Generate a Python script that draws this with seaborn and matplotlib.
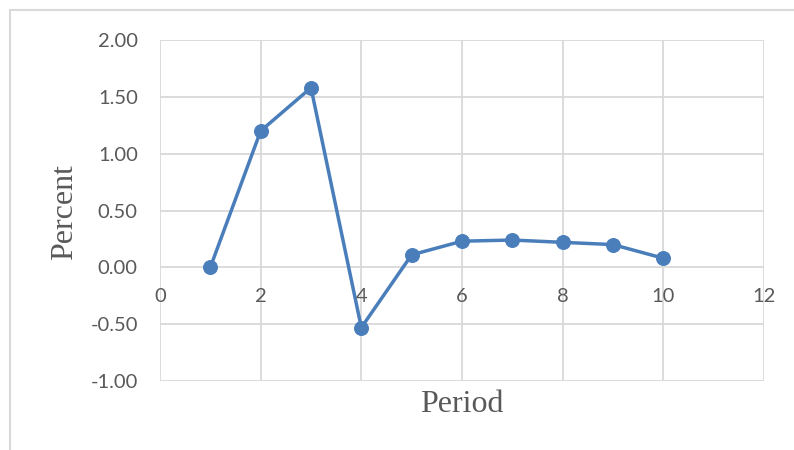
import matplotlib.pyplot as plt
import seaborn as sns
import pandas as pd
from matplotlib.lines import Line2D
from matplotlib.ticker import FormatStrFormatter

# values
periods = [1, 2, 3, 4, 5, 6, 7, 8, 9, 10]
percent = [0.00, 1.20, 1.58, -0.53, 0.11, 0.23, 0.24, 0.22, 0.20, 0.08]
x_ticks = [0, 2, 4, 6, 8, 10, 12]
y_ticks = [-1.00, -0.50, 0.00, 0.50, 1.00, 1.50, 2.00]

df = pd.DataFrame({"Period": periods, "Percent": percent})

sns.set_style("white")
plt.rcParams['font.family'] = ['Lato', 'DejaVu Sans']

fig = plt.figure(figsize=(7.94, 4.5), dpi=100)
ax = fig.add_axes([160 / 794, 69 / 450, 604 / 794, 341 / 450])

grid_col = '#d9d9d9'
text_col = '#595959'
blue = '#4a7ebb'

sns.lineplot(data=df, x="Period", y="Percent", ax=ax, color=blue,
             linewidth=2.5, marker='o', markersize=10,
             markeredgecolor=blue, markerfacecolor=blue)

ax.set_xlim(0, 12)
ax.set_ylim(-1, 2)
ax.set_xticks(x_ticks)
ax.set_yticks(y_ticks)
ax.yaxis.set_major_formatter(FormatStrFormatter('%.2f'))
ax.grid(True, color=grid_col, linewidth=1.3)
ax.set_axisbelow(True)
for s in ax.spines.values():
    s.set_visible(False)

# y labels on the left, x labels hanging off the zero line (Excel style)
ax.tick_params(axis='y', length=0, pad=16, labelsize=14.5, labelcolor=text_col)
ax.tick_params(axis='x', length=0, labelbottom=False)
for t in x_ticks:
    ax.annotate(str(t), xy=(t, 0), xytext=(0, -15), textcoords='offset points',
                ha='center', va='top', fontsize=14.5, color=text_col)

ax.set_xlabel("")
ax.set_ylabel("")
fig.text(65 / 794, 1 - 212 / 450, "Percent", rotation=90, ha='center', va='center',
         fontsize=23, color=text_col, family=['Liberation Serif'])
fig.text(462 / 794, 1 - 405 / 450, "Period", ha='center', va='center',
         fontsize=23, color=text_col, family=['Liberation Serif'])

# outer chart-area border (top and left visible in the crop)
fig.add_artist(Line2D([10 / 794, 10 / 794], [0, 1 - 10 / 450], color=grid_col, linewidth=1.5,
                      transform=fig.transFigure))
fig.add_artist(Line2D([10 / 794, 1], [1 - 10 / 450, 1 - 10 / 450], color=grid_col, linewidth=1.5,
                      transform=fig.transFigure))

fig.savefig('out.png', dpi=100)
